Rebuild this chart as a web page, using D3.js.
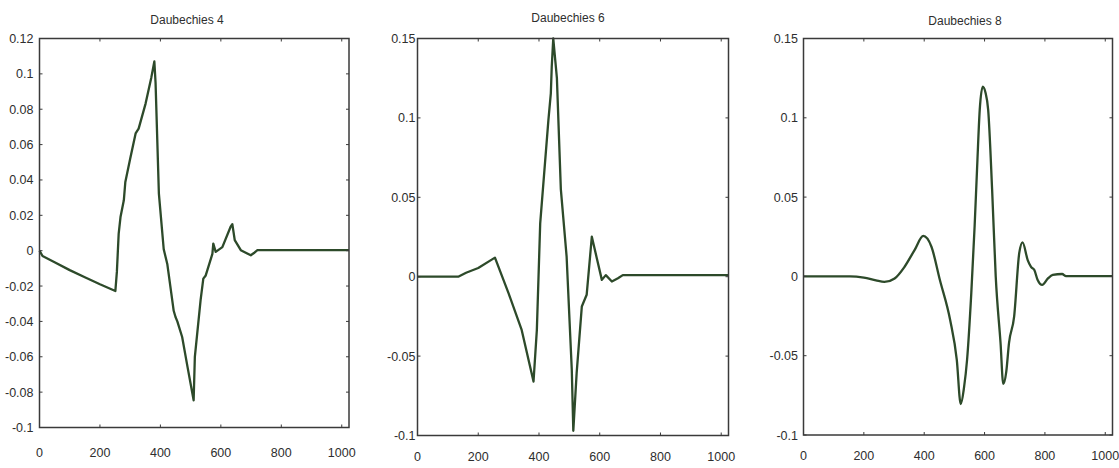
<!DOCTYPE html>
<html>
<head>
<meta charset="utf-8">
<script src="https://cdn.jsdelivr.net/npm/d3@7/dist/d3.min.js"></script>
<style>
  html, body { margin: 0; padding: 0; background: #fff; }
  svg { display: block; }
  text { font-family: "Liberation Sans", Arial, sans-serif; fill: #2e2e2e; }
</style>
</head>
<body>
<svg id="chart" width="1119" height="468"></svg>
<script>
// ---------- data ----------
const titles = ["Daubechies 4", "Daubechies 6", "Daubechies 8"];
const xTicks = [0, 200, 400, 600, 800, 1000];
const xTickLabels = ["0", "200", "400", "600", "800", "1000"];
const yTicksD4 = [0.12, 0.1, 0.08, 0.06, 0.04, 0.02, 0, -0.02, -0.04, -0.06, -0.08, -0.1];
const yTickLabelsD4 = ["0.12", "0.1", "0.08", "0.06", "0.04", "0.02", "0", "-0.02", "-0.04", "-0.06", "-0.08", "-0.1"];
const yTicksD6 = [0.15, 0.1, 0.05, 0, -0.05, -0.1];
const yTickLabelsD6 = ["0.15", "0.1", "0.05", "0", "-0.05", "-0.1"];
const yTicksD8 = [0.15, 0.1, 0.05, 0, -0.05, -0.1];
const yTickLabelsD8 = ["0.15", "0.1", "0.05", "0", "-0.05", "-0.1"];

const d4X = [0, 10, 50, 100, 150, 200, 251, 256, 262, 268, 279, 284, 300, 318, 328, 351, 370, 380, 384, 395, 411, 423, 444, 450, 456, 472, 490, 510, 514, 533, 542, 550, 572, 575, 583, 605, 632, 638, 646, 666, 699, 712, 721, 1024];
const d4Y = [0, -0.003, -0.0065, -0.011, -0.015, -0.019, -0.0228, -0.012, 0.0097, 0.019, 0.0285, 0.0389, 0.052, 0.0663, 0.069, 0.0832, 0.098, 0.107, 0.095, 0.0323, 0.0008, -0.0077, -0.034, -0.0375, -0.040, -0.0488, -0.066, -0.0846, -0.060, -0.028, -0.0158, -0.014, -0.0018, 0.004, -0.0007, 0.002, 0.0134, 0.015, 0.006, 0.0003, -0.0026, -0.001, 0.0003, 0.0003];

const d6X = [0, 134, 160, 200, 255, 300, 343, 382, 393, 404, 431, 439, 442, 447, 459, 472, 491, 508, 513, 524, 541, 557, 574, 590, 607, 620, 640, 660, 676, 1024];
const d6Y = [0, 0, 0.0025, 0.0055, 0.012, -0.0105, -0.0335, -0.066, -0.0335, 0.0336, 0.0986, 0.1154, 0.132, 0.150, 0.125, 0.055, 0.0126, -0.0586, -0.097, -0.0607, -0.0188, -0.0114, 0.0252, 0.012, -0.002, 0.001, -0.003, -0.001, 0.001, 0.001];

const d8X = [0, 154, 200, 240, 268, 302, 335, 368, 397, 424, 452, 486, 508, 521, 532, 542, 556, 567, 575, 584, 594, 603, 612, 625, 637, 653, 662, 672, 681, 698, 715, 726, 743, 754, 765, 776, 791, 810, 826, 857, 870, 1024];
const d8Y = [0, 0, -0.0008, -0.0025, -0.0035, -0.0013, 0.0061, 0.0166, 0.0255, 0.0187, -0.0023, -0.0275, -0.0527, -0.0805, -0.0700, -0.0527, -0.0107, 0.0313, 0.067, 0.105, 0.1196, 0.116, 0.105, 0.055, 0.000, -0.042, -0.0678, -0.060, -0.042, -0.0254, 0.0148, 0.0215, 0.0103, 0.006, 0.004, -0.0023, -0.0054, -0.0013, 0.0009, 0.0015, 0.0002, 0.0002];

// ---------- layout ----------
const panels = [
  { title: titles[0], xs: d4X, ys: d4Y, yTicks: yTicksD4, yLabels: yTickLabelsD4, yDomain: [-0.1, 0.12],
    left: 39.5, right: 349, top: 38.5, bottom: 427.5, titleX: 187, titleY: 24, yLabGap: 6, xLabY: 457, curve: d3.curveLinear },
  { title: titles[1], xs: d6X, ys: d6Y, yTicks: yTicksD6, yLabels: yTickLabelsD6, yDomain: [-0.1, 0.15],
    left: 417.5, right: 728.5, top: 38.5, bottom: 435.5, titleX: 568, titleY: 21.5, yLabGap: 2, xLabY: 461, curve: d3.curveLinear },
  { title: titles[2], xs: d8X, ys: d8Y, yTicks: yTicksD8, yLabels: yTickLabelsD8, yDomain: [-0.1, 0.15],
    left: 803.5, right: 1112.5, top: 38.5, bottom: 435, titleX: 965, titleY: 25, yLabGap: 5.5, xLabY: 460, curve: d3.curveMonotoneX }
];

const svg = d3.select("#chart");
const lineColor = "#2d4a2a";
const frameColor = "#3a3a3a";

panels.forEach(p => {
  const x = d3.scaleLinear().domain([0, 1024]).range([p.left, p.right]);
  const y = d3.scaleLinear().domain(p.yDomain).range([p.bottom, p.top]);
  const g = svg.append("g");

  // title
  g.append("text")
    .attr("x", p.titleX).attr("y", p.titleY)
    .attr("text-anchor", "middle")
    .style("font-size", "12px")
    .text(p.title);

  // line
  const pts = p.xs.map((v, i) => [v, p.ys[i]]);
  g.append("path")
    .datum(pts)
    .attr("fill", "none")
    .attr("stroke", lineColor)
    .attr("stroke-width", 2.3)
    .attr("stroke-linejoin", "round")
    .attr("d", d3.line().x(d => x(d[0])).y(d => y(d[1])).curve(p.curve));

  // frame
  g.append("rect")
    .attr("x", p.left).attr("y", p.top)
    .attr("width", p.right - p.left).attr("height", p.bottom - p.top)
    .attr("fill", "none").attr("stroke", frameColor).attr("stroke-width", 1.5);

  // x ticks (inward, top & bottom) and labels
  xTicks.forEach((t, i) => {
    const px = x(t);
    if (t !== 0) {
      g.append("line").attr("x1", px).attr("x2", px).attr("y1", p.bottom).attr("y2", p.bottom - 3)
        .attr("stroke", frameColor).attr("stroke-width", 1);
      g.append("line").attr("x1", px).attr("x2", px).attr("y1", p.top).attr("y2", p.top + 3)
        .attr("stroke", frameColor).attr("stroke-width", 1);
    }
    g.append("text")
      .attr("x", px).attr("y", p.xLabY)
      .attr("text-anchor", "middle")
      .style("font-size", "12.5px")
      .text(xTickLabels[i]);
  });

  // y ticks (inward, left & right) and labels
  p.yTicks.forEach((t, i) => {
    const py = y(t);
    g.append("line").attr("x1", p.left).attr("x2", p.left + 3).attr("y1", py).attr("y2", py)
      .attr("stroke", frameColor).attr("stroke-width", 1);
    g.append("line").attr("x1", p.right).attr("x2", p.right - 3).attr("y1", py).attr("y2", py)
      .attr("stroke", frameColor).attr("stroke-width", 1);
    g.append("text")
      .attr("x", p.left - p.yLabGap).attr("y", py + 4.5)
      .attr("text-anchor", "end")
      .style("font-size", "12.5px")
      .text(p.yLabels[i]);
  });
});
</script>
</body>
</html>
